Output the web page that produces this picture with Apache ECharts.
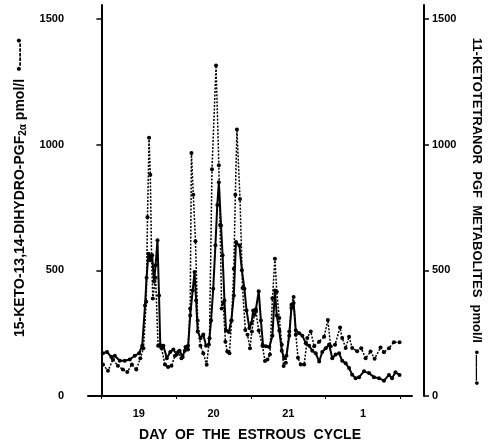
<!DOCTYPE html>
<html>
<head>
<meta charset="utf-8">
<script src="https://cdn.jsdelivr.net/npm/echarts@6/dist/echarts.min.js"></script>
<style>
html,body{margin:0;padding:0;background:#fff;}
#main{width:491px;height:447px;}
</style>
</head>
<body>
<div id="main"></div>
<script>
// 15-keto-13,14-dihydro-PGF2a (dotted line, left axis), hours from start of day 19
var ketoHours = [0.5,2.1,3.7,5.3,6.9,8.3,9.8,11.2,12.5,13.5,14.4,14.8,15.3,15.7,16.1,16.5,17.4,18.2,19.3,20.4,
	21.4,22.5,23.6,24.6,25.7,26.8,27.8,28.5,28.9,29.5,30.2,30.9,31.8,32.7,33.8,34.7,35.5,36.8,37.7,38.1,
	38.6,39.1,39.8,40.4,41.1,41.8,42.5,43.0,43.5,44.5,45.3,46.2,46.9,47.7,48.3,49.1,49.6,50.5,51.7,52.5,
	53.3,54.1,54.9,55.7,56.3,57.1,57.9,58.5,59.2,60.3,61.0,61.7,62.4,63.1,64.0,65.1,66.1,67.2,68.3,69.9,
	71.5,72.7,73.6,75.0,76.6,77.3,78.4,79.5,80.5,82.1,83.4,84.8,86.4,87.7,89.6,90.7,92.3,93.9,95.7];
var ketoValues = [125,100,145,120,105,95,125,105,150,190,375,711,1027,880,560,388,470,200,190,125,
	115,120,160,175,150,180,200,348,966,800,615,300,200,170,124,230,902,1314,918,680,
	348,370,216,177,170,300,506,800,1060,783,430,262,244,190,257,323,336,260,200,139,
	145,165,389,546,415,310,204,119,132,257,363,394,244,152,125,125,231,257,198,216,
	236,302,198,204,272,231,191,236,191,178,190,150,177,148,193,174,190,214,214];

// 11-ketotetranor PGF metabolites (solid line, right axis)
var tetranorHours = [0.5,1.8,3.2,4.3,5.9,7.5,9.1,10.7,12.1,13.1,14.0,14.5,15.1,15.7,16.3,16.9,17.4,18.0,18.5,18.9,
	19.9,21.0,22.1,23.1,24.2,25.1,26.1,27.0,27.8,28.5,29.3,29.9,30.4,30.9,31.8,32.7,33.6,34.5,35.2,35.9,
	36.6,37.2,37.7,38.4,38.9,39.5,40.0,40.9,41.7,42.5,43.2,44.3,45.1,45.9,46.6,47.5,48.2,48.7,49.6,50.5,
	51.2,51.9,52.8,53.9,54.9,55.7,56.3,57.1,57.9,58.7,59.4,60.3,61.0,61.7,62.4,63.5,64.5,65.6,66.7,67.7,
	68.8,69.9,70.9,72.0,73.1,74.1,75.2,76.3,77.3,78.4,79.5,80.5,81.6,82.7,84.3,85.9,87.5,89.1,90.7,92.3,
	93.3,94.4,95.7];
var tetranorValues = [170,175,155,160,140,140,145,160,170,200,360,470,566,540,560,455,520,619,400,203,
	200,150,175,185,165,180,155,195,185,320,420,493,380,257,230,245,200,205,300,427,
	600,760,850,678,560,380,260,255,300,400,612,599,500,427,340,270,290,340,345,417,
	300,200,198,195,240,420,320,260,180,150,160,240,350,370,260,250,240,210,200,180,
	170,137,175,190,205,150,165,170,140,130,111,85,71,75,98,91,75,71,61,84,
	71,94,84];

var dayTicks = [0,24,48,72,96];
var dayLabelPos = [12,36,60,84];
var dayLabels = ['19','20','21','1'];
var yTicks = [0,500,1000,1500];

function pairs(xs, ys){
	var out = [];
	for(var i=0;i<xs.length;i++){
		out.push([xs[i], ys[i]]);
	}
	return out;
}

var FONT = 'Liberation Sans';
var labelStyle = {color:'#000', fontFamily:FONT, fontWeight:'bold', fontSize:11};
function plain(v){ return String(v); }

var option = {
	animation:false,
	backgroundColor:'#fff',
	grid:{left:88, right:78, top:5, bottom:49},
	xAxis:{
		type:'value',
		min:-4.3,
		max:99.7,
		splitLine:{show:false},
		axisLine:{show:true, lineStyle:{color:'#000', width:2}},
		axisTick:{show:true, customValues:dayTicks, length:3, lineStyle:{color:'#000', width:1}},
		axisLabel:Object.assign({
			customValues:dayLabelPos,
			margin:12,
			formatter:function(v){ return dayLabels[dayLabelPos.indexOf(v)]; }
		}, labelStyle),
		name:'DAY  OF  THE  ESTROUS  CYCLE',
		nameLocation:'middle',
		nameGap:32,
		nameTextStyle:{color:'#000', fontFamily:FONT, fontWeight:'bold', fontSize:14}
	},
	yAxis:[
		{
			type:'value',
			position:'left',
			offset:15,
			min:0,
			max:1555,
			splitLine:{show:false},
			axisLine:{show:true, lineStyle:{color:'#000', width:2}},
			axisTick:{show:true, customValues:yTicks, length:5, lineStyle:{color:'#000', width:1.5}},
			axisLabel:Object.assign({customValues:yTicks, margin:9, formatter:plain}, labelStyle),
			name:'15-KETO-13,14-DIHYDRO-PGF{sub|2α} pmol/l  •-----•',
			nameLocation:'middle',
			nameGap:45,
			nameTextStyle:{
				color:'#000', fontFamily:FONT, fontWeight:'bold', fontSize:14,
				padding:[0,0,0,26],
				rich:{sub:{fontFamily:FONT, fontWeight:'bold', fontSize:10, padding:[6,0,0,0]}}
			}
		},
		{
			type:'value',
			position:'right',
			offset:12,
			min:0,
			max:1555,
			splitLine:{show:false},
			axisLine:{show:true, lineStyle:{color:'#000', width:2}},
			axisTick:{show:true, customValues:yTicks, length:5, lineStyle:{color:'#000', width:1.5}},
			axisLabel:Object.assign({customValues:yTicks, margin:8, formatter:plain}, labelStyle),
			name:'11-KETOTETRANOR  PGF  METABOLITES  pmol/l  •——•',
			nameLocation:'middle',
			nameRotate:-90,
			nameGap:46,
			nameTextStyle:{color:'#000', fontFamily:FONT, fontWeight:'bold', fontSize:13, padding:[0,0,0,22]}
		}
	],
	series:[
		{
			name:'15-keto-13,14-dihydro-PGF2a',
			type:'line',
			yAxisIndex:0,
			data:pairs(ketoHours, ketoValues),
			symbol:'circle',
			symbolSize:4,
			itemStyle:{color:'#000'},
			lineStyle:{color:'#000', width:1.5, type:[2,1.5]}
		},
		{
			name:'11-ketotetranor PGF metabolites',
			type:'line',
			yAxisIndex:1,
			data:pairs(tetranorHours, tetranorValues),
			symbol:'circle',
			symbolSize:4,
			itemStyle:{color:'#000'},
			lineStyle:{color:'#000', width:2}
		}
	]
};

echarts.init(document.getElementById('main')).setOption(option);
</script>
</body>
</html>
